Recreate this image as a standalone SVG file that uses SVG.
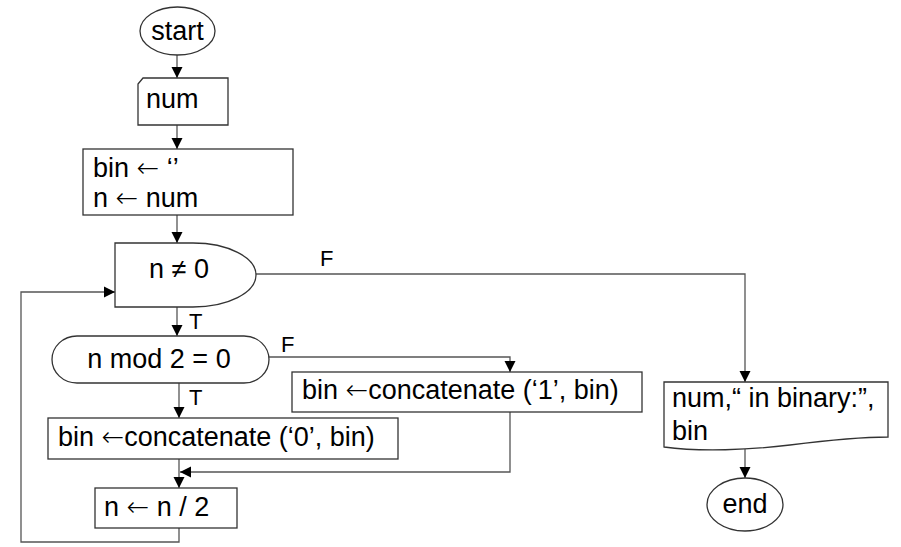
<svg xmlns="http://www.w3.org/2000/svg" width="901" height="547" viewBox="0 0 901 547">
<defs>
<style>
.s{fill:#fff;stroke:#333;stroke-width:1.3}
.c{fill:none;stroke:#555;stroke-width:1.3}
text{font-family:"Liberation Sans",Arial,sans-serif;font-size:27px;fill:#000}
.m{text-anchor:middle}
.l{font-size:22px}
.ar{font-family:"DejaVu Sans",sans-serif;font-weight:200}
</style>
<marker id="a" markerUnits="userSpaceOnUse" markerWidth="12" markerHeight="12" refX="11" refY="6" orient="auto">
<path d="M0,0.5 L11,6 L0,11.5 Z" fill="#000"/>
</marker>
</defs>
<rect width="901" height="547" fill="#fff"/>
<g id="connectors">
<path class="c" d="M177,55 V78" marker-end="url(#a)"/>
<path class="c" d="M177,125 V149" marker-end="url(#a)"/>
<path class="c" d="M177,215 V243" marker-end="url(#a)"/>
<path class="c" d="M177,307 V336" marker-end="url(#a)"/>
<path class="c" d="M256,274 H745 V382" marker-end="url(#a)"/>
<path class="c" d="M179,383 V418" marker-end="url(#a)"/>
<path class="c" d="M269,357 H510 V372" marker-end="url(#a)"/>
<path class="c" d="M510,412 V472 H180" marker-end="url(#a)"/>
<path class="c" d="M179,459 V488" marker-end="url(#a)"/>
<path class="c" d="M179,528 V542 H21 V292 H115" marker-end="url(#a)"/>
<path class="c" d="M745,449 V478" marker-end="url(#a)"/>
<text class="l" x="320" y="266">F</text>
<text class="l" x="189" y="329">T</text>
<text class="l" x="281" y="352">F</text>
<text class="l" x="189" y="405">T</text>
</g>
<g id="start">
<ellipse class="s" cx="177.5" cy="31" rx="37.5" ry="24"/>
<text class="m" x="177.5" y="40">start</text>
</g>
<g id="input-num">
<path class="s" d="M143,78 H228 V125 H138 V84 Z"/>
<text x="146" y="108">num</text>
</g>
<g id="init">
<rect class="s" x="83" y="149" width="210" height="66"/>
<text x="93" y="177">bin <tspan class="ar">←</tspan> ‘’</text>
<text x="93" y="207">n <tspan class="ar">←</tspan> num</text>
</g>
<g id="loop-cond">
<path class="s" d="M115,243 H193 A63,32 0 0 1 193,307 H115 Z"/>
<text class="m" x="179" y="278">n ≠ 0</text>
</g>
<g id="mod-cond">
<rect class="s" x="52" y="336" width="217" height="47" rx="25" ry="23.5"/>
<text class="m" x="159" y="368">n mod 2 = 0</text>
</g>
<g id="concat1">
<rect class="s" x="292" y="372" width="350" height="40"/>
<text x="302" y="399">bin <tspan class="ar">←</tspan>concatenate (‘1’, bin)</text>
</g>
<g id="concat0">
<rect class="s" x="48" y="418" width="350" height="41"/>
<text x="58" y="446">bin <tspan class="ar">←</tspan>concatenate (‘0’, bin)</text>
</g>
<g id="halve">
<rect class="s" x="95" y="488" width="142" height="40"/>
<text x="104" y="516">n <tspan class="ar">←</tspan> n / 2</text>
</g>
<g id="output">
<path class="s" d="M664,382 H888 V437 C860,437 830,440 790,445 C750,450 700,452 664,447 Z"/>
<text x="672" y="407">num,“ in binary:”,</text>
<text x="672" y="440">bin</text>
</g>
<g id="end">
<ellipse class="s" cx="745" cy="504.5" rx="38" ry="26.5"/>
<text class="m" x="745" y="513">end</text>
</g>
</svg>
